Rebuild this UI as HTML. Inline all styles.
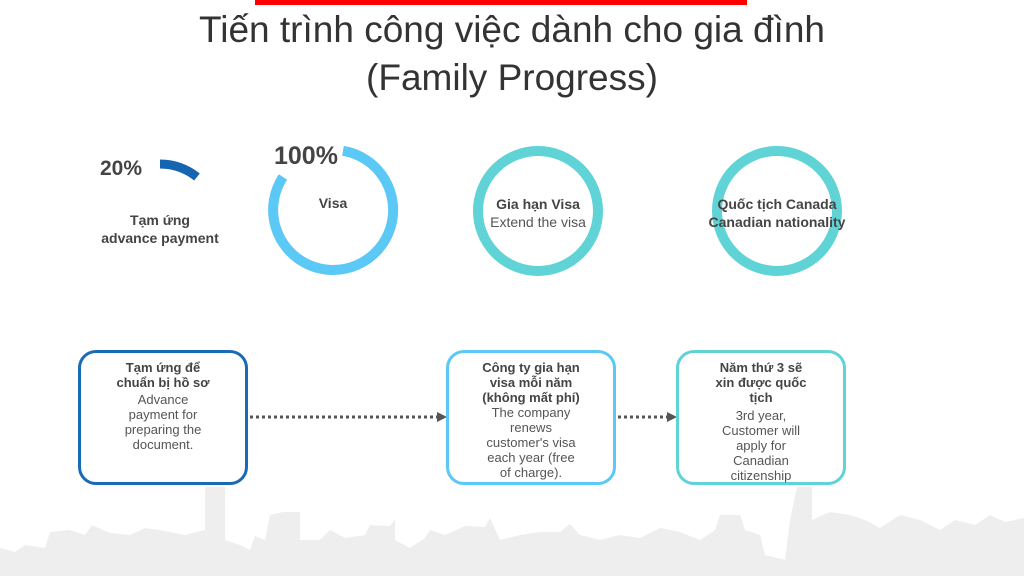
<!DOCTYPE html>
<html><head><meta charset="utf-8"><style>
body{margin:0;width:1024px;height:576px;overflow:hidden;background:#fff;font-family:"Liberation Sans",Arial,sans-serif;position:relative}
.t{position:absolute;text-align:center;color:#555}
.b{font-weight:bold;color:#444}
.box{position:absolute;box-sizing:border-box;border:3px solid;border-radius:18px;width:170px;height:135px;text-align:center;font-size:13px;line-height:15px;color:#555;padding-top:7px;white-space:nowrap}
</style></head><body>
<svg width="1024" height="576" style="position:absolute;left:0;top:0">
<polygon fill="#eeeeee" points="0,576 0,548 15,552 25,545 45,548 50,532 70,530 85,535 92,525 110,533 130,535 145,528 160,530 185,535 205,530 205,487 225,487 225,540 240,545 250,550 255,536 265,540 270,515 283,512 300,512 300,540 320,540 330,530 345,538 365,535 370,525 390,526 395,520 395,540 410,548 425,538 430,530 445,535 465,526 485,527 490,518 500,540 520,535 540,532 560,532 570,524 580,535 600,540 620,535 640,538 660,528 680,532 700,540 715,530 720,515 740,515 745,530 760,535 765,555 785,560 790,520 797,487 812,487 812,520 830,512 850,515 865,520 880,528 900,515 920,520 940,530 955,520 975,525 990,515 1005,522 1024,518 1024,576"/>
<rect x="255" y="0" width="492" height="5" fill="#ff0000"/>
<path d="M160,164 A60,60 0 0 1 197,177" fill="none" stroke="#1565b0" stroke-width="9"/>
<path d="M343,150.8 A60,60 0 1 1 283,177" fill="none" stroke="#5bc8f5" stroke-width="10"/>
<circle cx="538" cy="211" r="60" fill="none" stroke="#5fd3d6" stroke-width="10"/>
<circle cx="777" cy="211" r="60" fill="none" stroke="#5fd3d6" stroke-width="10"/>
<line x1="250" y1="417" x2="437" y2="417" stroke="#555" stroke-width="3" stroke-dasharray="3,3"/>
<polygon points="437,412 447,417 437,422" fill="#555"/>
<line x1="618" y1="417" x2="667" y2="417" stroke="#555" stroke-width="3" stroke-dasharray="3,3"/>
<polygon points="667,412 677,417 667,422" fill="#555"/>
</svg>
<div class="t" style="left:0;width:1024px;top:6px;font-size:37px;line-height:48px;color:#333">Tiến trình công việc dành cho gia đình<br>(Family Progress)</div>
<div class="t b" style="left:100px;top:157px;font-size:21px">20%</div>
<div class="t b" style="left:80px;width:160px;top:211px;font-size:14px;line-height:18px">Tạm ứng<br>advance payment</div>
<div class="t b" style="left:274px;top:142px;font-size:25px">100%</div>
<div class="t b" style="left:300px;width:66px;top:195px;font-size:14px">Visa</div>
<div class="t" style="left:460px;width:156px;top:195px;font-size:14px;line-height:18px"><span class="b">Gia hạn Visa</span><br>Extend the visa</div>
<div class="t b" style="left:690px;width:174px;top:195px;font-size:14px;line-height:18px">Quốc tịch Canada<br>Canadian nationality</div>
<div class="box" style="left:78px;top:350px;border-color:#1a6bb5"><div class="b">Tạm ứng để<br>chuẩn bị hồ sơ</div><div style="padding-top:2px">Advance<br>payment for<br>preparing the<br>document.</div></div>
<div class="box" style="left:446px;top:350px;border-color:#5bc8f5"><div class="b">Công ty gia hạn<br>visa mỗi năm<br>(không mất phí)</div><div>The company<br>renews<br>customer's visa<br>each year (free<br>of charge).</div></div>
<div class="box" style="left:676px;top:350px;border-color:#5fd3d6"><div class="b">Năm thứ 3 sẽ<br>xin được quốc<br>tịch</div><div style="padding-top:3px">3rd year,<br>Customer will<br>apply for<br>Canadian<br>citizenship</div></div>
</body></html>
